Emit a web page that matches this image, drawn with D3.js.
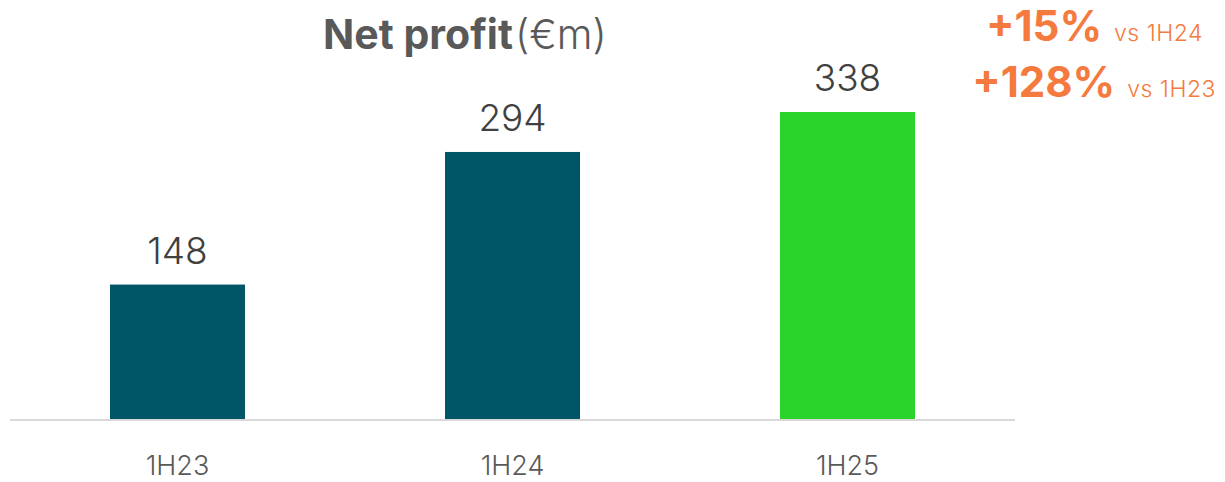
<!DOCTYPE html>
<html><head><meta charset="utf-8">
<script src="https://cdn.jsdelivr.net/npm/d3@7"></script>
<style>body{margin:0;background:#fff}svg{display:block;font-family:Inter,"Noto Sans",sans-serif}</style>
</head><body>
<svg id="c" width="1225" height="482"></svg>
<script>
const categories = ["1H23","1H24","1H25"];
const values = [148,294,338];
const barColors = ["#005566","#005566","#2bd42b"];
const growthMain = ["+15%","+128%"];
const growthSub = ["vs 1H24","vs 1H23"];

const svg = d3.select("#c");
const x = d3.scaleBand().domain(categories).range([10,1015]).paddingInner(200/335).paddingOuter(100/335);
const y = d3.scaleLinear().domain([0,338]).range([419,112]);

svg.append("line").attr("x1",10).attr("x2",1015).attr("y1",420).attr("y2",420)
  .attr("stroke","#d9d9d9").attr("stroke-width",2);

svg.selectAll("rect.bar").data(values).join("rect").attr("class","bar")
  .attr("x",(d,i)=>x(categories[i])).attr("width",x.bandwidth())
  .attr("y",d=>y(d)).attr("height",d=>y(0)-y(d)).attr("fill",(d,i)=>barColors[i]);

svg.selectAll("text.val").data(values).join("text").attr("class","val")
  .attr("x",(d,i)=>x(categories[i])+x.bandwidth()/2).attr("y",d=>y(d)-21)
  .attr("text-anchor","middle").attr("font-size",37).attr("font-weight",300).attr("fill","#404040").text(d=>d);

svg.selectAll("text.cat").data(categories).join("text").attr("class","cat")
  .attr("x",d=>x(d)+x.bandwidth()/2).attr("y",475)
  .attr("text-anchor","middle").attr("font-size",27).attr("font-weight",300).attr("fill","#595959").text(d=>d);

const t = svg.append("text").attr("x",465).attr("y",49).attr("text-anchor","middle").attr("fill","#595959").attr("font-size",41);
t.append("tspan").attr("font-weight","bold").text("Net profit");
t.append("tspan").attr("dx",2).attr("font-weight",300).text("(€m)");

const gy = [41,97];
const gx = [1203,1216];
growthMain.forEach((m,i)=>{
  const g = svg.append("text").attr("x",gx[i]).attr("y",gy[i]).attr("text-anchor","end").attr("fill","#f47a3e");
  g.append("tspan").attr("font-weight","bold").attr("font-size",42).text(m);
  g.append("tspan").attr("dx",12).attr("font-size",23).attr("font-weight",300).attr("letter-spacing",0.5).text(growthSub[i]);
});
</script>
</body></html>
